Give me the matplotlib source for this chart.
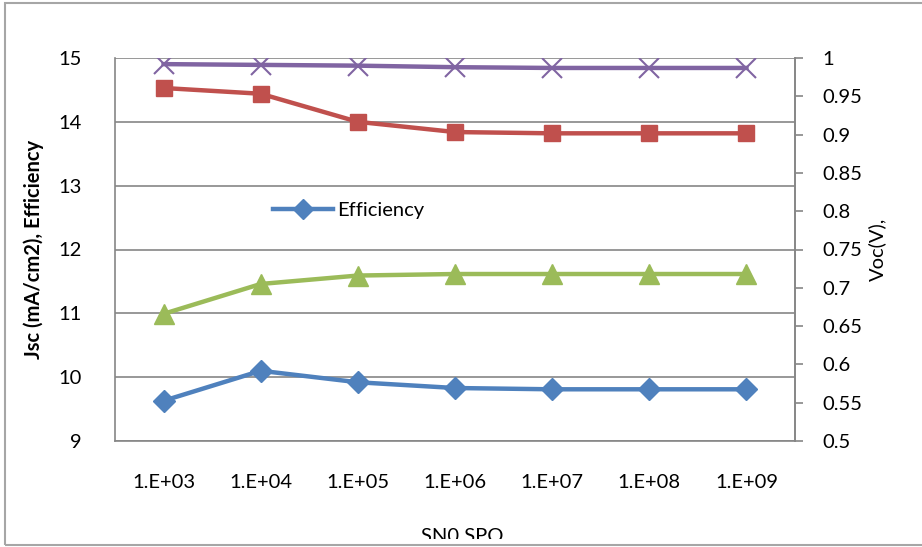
import matplotlib.pyplot as plt
from matplotlib.patches import Rectangle
from matplotlib.transforms import Bbox

plt.rcParams['font.family'] = ['Lato', 'DejaVu Sans']

# SN0 SPO sweep (categories on the x axis)
sweep = ["1.E+03", "1.E+04", "1.E+05", "1.E+06", "1.E+07", "1.E+08", "1.E+09"]

# left axis
efficiency = [9.63, 10.10, 9.92, 9.83, 9.81, 9.81, 9.81]
jsc = [14.53, 14.44, 14.00, 13.84, 13.82, 13.82, 13.82]

# right axis
ff = [0.666, 0.705, 0.716, 0.718, 0.718, 0.718, 0.718]
voc = [0.992, 0.991, 0.990, 0.988, 0.987, 0.987, 0.987]

BLUE = '#4F81BD'
RED = '#C0504D'
GREEN = '#9BBB59'
PURPLE = '#8064A2'
GRID = '#868686'
FS = 14.5

fig = plt.figure(figsize=(9.22, 5.47), dpi=100)
ax = fig.add_axes([115 / 922, 1 - 441 / 547, 680 / 922, 383 / 547])
ax2 = ax.twinx()

x = list(range(len(sweep)))

ax.plot(x, efficiency, color=BLUE, lw=3.2, marker='D', ms=11, label='Efficiency', zorder=4)
ax.plot(x, jsc, color=RED, lw=3.2, marker='s', ms=12, zorder=4)
ax2.plot(x, ff, color=GREEN, lw=3.2, marker='^', ms=14, zorder=4)
ax2.plot(x, voc, color=PURPLE, lw=3.2, marker='x', ms=14, mew=1.5, zorder=4)

ax.set_xlim(-0.5, len(sweep) - 0.5)
ax.set_ylim(9, 15)
ax.set_yticks(range(9, 16))
ax.set_xticks(x)
ax.set_xticklabels(sweep)
ax.yaxis.grid(True, color=GRID, lw=1.2)
ax.set_axisbelow(True)

ax2.set_ylim(0.5, 1.0)
ax2.set_yticks([0.5 + 0.05 * i for i in range(11)])
ax2.set_yticklabels(['0.5', '0.55', '0.6', '0.65', '0.7', '0.75', '0.8', '0.85', '0.9', '0.95', '1'])

for a in (ax, ax2):
    a.spines['top'].set_visible(False)
    for s in a.spines.values():
        s.set_color(GRID)
        s.set_linewidth(1.2)
ax2.spines['left'].set_visible(False)
ax2.spines['bottom'].set_visible(False)

ax.tick_params(axis='y', length=0, pad=24, labelsize=FS)
ax.tick_params(axis='x', length=0, pad=24, labelsize=FS)
ax2.tick_params(axis='y', length=6, width=1.2, color=GRID, pad=14, labelsize=FS)

ax.set_ylabel('Jsc (mA/cm2), Efficiency', fontsize=FS, fontweight='bold', labelpad=10)
ax2.set_ylabel('Voc(V),', fontsize=FS, labelpad=4)

ax.legend(loc='center left', bbox_to_anchor=(0.205, 0.603), frameon=False,
          fontsize=FS, handlelength=3.0, handletextpad=0.2, markerscale=0.9)

# outer chart frame
frame = Rectangle((5 / 922, 2 / 547), 1.0, 1 - 5 / 547, transform=fig.transFigure,
                  fill=False, edgecolor='#a6a6a6', lw=1.5)
fig.patches.append(frame)

# axis title, cut off at the bottom of the chart area
t = fig.text(462 / 922, 1 - 528 / 547, 'SN0 SPO', ha='center', va='top', fontsize=FS)
t.set_clip_box(Bbox([[0, 8], [922, 547]]))
t.set_clip_on(True)

fig.savefig('out.png', dpi=100)
